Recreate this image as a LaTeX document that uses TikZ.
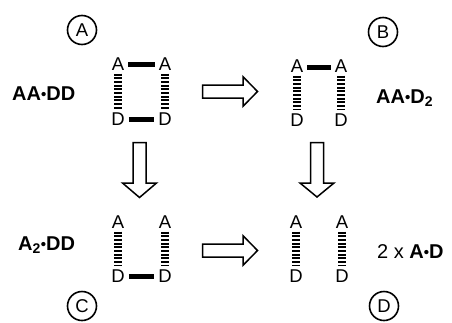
\documentclass[tikz,border=0pt]{standalone}
\usepackage{fontspec}
\setmainfont{Liberation Sans}
\newcommand{\smbul}{\raisebox{0.9pt}{\scalebox{0.75}{•}}}
\begin{document}
\begin{tikzpicture}[x=1pt,y=-1pt,
  lett/.style={inner sep=0pt, font=\fontsize{18.5}{18.5}\selectfont},
  lbl/.style={inner sep=0pt, anchor=base west, font=\fontsize{20}{20}\selectfont},
  tag/.style={circle, draw, line width=1.6pt, minimum size=29pt, inner sep=0pt, font=\fontsize{18.5}{18.5}\selectfont},
  ladder/.style={line width=7.5pt, dash pattern=on 2pt off 1.7pt, shorten <=3pt, shorten >=3pt},
  bond/.style={line width=5pt, shorten <=4pt, shorten >=4pt},
  blockarrow/.style={draw, line width=1.5pt, fill=white, line join=miter}]
\useasboundingbox (0,0) rectangle (452,322);

% circled tags
\node[tag] (tA) at (82,30) {A};
\node[tag] (tB) at (383,32) {B};
\node[tag] (tC) at (82,306) {C};
\node[tag] (tD) at (384,306) {D};

% labels
\node[lbl] (lA) at (12,100.5) {\bfseries AA\smbul DD};
\node[lbl] (lB) at (376,103) {\bfseries AA\smbul D\textsubscript{2}};
\node[lbl] (lC) at (18,250.5) {\bfseries A\textsubscript{2}\smbul DD};
\node[lbl] (lD) at (377,258) {2 x \textbf{A\smbul D}};

% quadrant A
\node[lett] (a1) at (118,64) {A};
\node[lett] (a2) at (165,64) {A};
\node[lett] (d1) at (118,119) {D};
\node[lett] (d2) at (165,119) {D};
\draw[ladder] (a1.south) -- (d1.north);
\draw[ladder] (a2.south) -- (d2.north);
\draw[bond] (a1.east) -- (a2.west);
\draw[bond] (d1.east) -- (d2.west);

% quadrant B
\node[lett] (ba1) at (297,66) {A};
\node[lett] (ba2) at (341,66) {A};
\node[lett] (bd1) at (297,120) {D};
\node[lett] (bd2) at (341,120) {D};
\draw[ladder] (ba1.south) -- (bd1.north);
\draw[ladder] (ba2.south) -- (bd2.north);
\draw[bond] ([yshift=-1.5pt]ba1.east) -- ([yshift=-1.5pt]ba2.west);

% quadrant C
\node[lett] (ca1) at (118,222) {A};
\node[lett] (ca2) at (165,222) {A};
\node[lett] (cd1) at (118,276) {D};
\node[lett] (cd2) at (165,276) {D};
\draw[ladder] (ca1.south) -- (cd1.north);
\draw[ladder] (ca2.south) -- (cd2.north);
\draw[bond] (cd1.east) -- (cd2.west);

% quadrant D
\node[lett] (da1) at (296,222) {A};
\node[lett] (da2) at (342,222) {A};
\node[lett] (dd1) at (296,276) {D};
\node[lett] (dd2) at (342,276) {D};
\draw[ladder] (da1.south) -- (dd1.north);
\draw[ladder] (da2.south) -- (dd2.north);

% block arrows
\draw[blockarrow] (202.7,85) -- (243,85) -- (243,76.7) -- (257.5,91.5) -- (243,106.3) -- (243,98) -- (202.7,98) -- cycle;
\draw[blockarrow] (202.7,244) -- (243,244) -- (243,235.7) -- (257.5,250.5) -- (243,265.3) -- (243,257) -- (202.7,257) -- cycle;
\draw[blockarrow] (133,142.7) -- (146,142.7) -- (146,183) -- (156.5,183) -- (139.5,197.5) -- (122.5,183) -- (133,183) -- cycle;
\draw[blockarrow] (310.5,142.7) -- (323.5,142.7) -- (323.5,183) -- (334,183) -- (317,197) -- (300,183) -- (310.5,183) -- cycle;
\end{tikzpicture}
\end{document}
